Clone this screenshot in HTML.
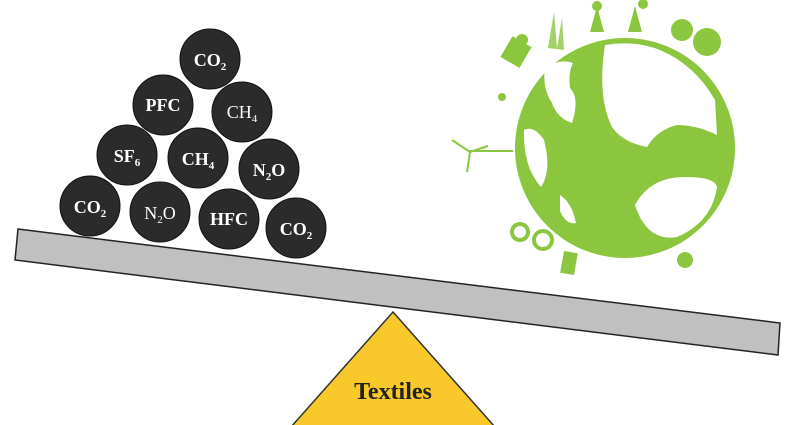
<!DOCTYPE html>
<html><head><style>body{margin:0;background:#fff}svg{display:block}</style></head><body>
<svg width="800" height="425" viewBox="0 0 800 425" xmlns="http://www.w3.org/2000/svg" font-family="Liberation Serif, serif">
<!-- globe -->
<g fill="#8cc63f">
<circle cx="625" cy="148" r="110"/>
<path d="M590 32 l7-26 7 26z M628 32 l7-26 7 26z"/>
<circle cx="597" cy="6" r="5"/><circle cx="643" cy="4" r="5"/>
<circle cx="682" cy="30" r="11"/><circle cx="707" cy="42" r="14"/>
<rect x="505" y="40" width="22" height="24" transform="rotate(30 516 52)"/>
<circle cx="522" cy="40" r="6"/>
<path d="M548 48 l6-36 3 36 5-30 2 32z" opacity="0.8"/>
<circle cx="502" cy="97" r="4"/>
<path d="M470 152 l18 -6 M470 152 l-18 -12 M470 152 l-3 20" stroke="#8cc63f" stroke-width="2" fill="none"/>
<rect x="468" y="150" width="45" height="2"/>
<circle cx="520" cy="232" r="8" fill="none" stroke="#8cc63f" stroke-width="4"/>
<circle cx="543" cy="240" r="9" fill="none" stroke="#8cc63f" stroke-width="4"/>
<rect x="562" y="252" width="14" height="22" transform="rotate(10 569 263)"/>
<circle cx="685" cy="260" r="8"/>
</g>
<g fill="#fff">
<path d="M605 45 q30-5 55 5 q35 15 55 50 l2 35 q-20 -10 -40 -10 q-20 5 -30 22 q-25 -5 -35 -20 q-15 -30 -7 -82 z"/>
<path d="M545 68 q15 -10 28 -5 q-5 10 -3 25 q10 10 2 35 q-15 -5 -20 -20 q-10 -15 -7 -35z"/>
<path d="M635 205 q15 -28 50 -28 q30 0 32 10 q-5 35 -40 50 q-30 5 -42 -32z"/>
<path d="M524 130 q10 -5 20 10 q8 30 -3 47 q-18 -20 -17 -57z"/>
<path d="M560 195 q12 8 16 28 q-10 2 -16 -12z"/>
</g>
<!-- beam -->
<polygon points="18,229 780,323 778,355 15,260" fill="#c0c0c0" stroke="#222" stroke-width="1.5"/>
<!-- triangle -->
<polygon points="393,312 495,427 291,427" fill="#f9c82b" stroke="#333" stroke-width="1.5"/>
<text x="393" y="399" font-size="24" font-weight="bold" text-anchor="middle" fill="#222">Textiles</text>
<!-- molecules -->
<g fill="#2b2b2b" stroke="#111" stroke-width="1">
<circle cx="210" cy="59" r="30"/><circle cx="163" cy="105" r="30"/><circle cx="242" cy="112" r="30"/>
<circle cx="127" cy="155" r="30"/><circle cx="198" cy="158" r="30"/><circle cx="269" cy="169" r="30"/>
<circle cx="90" cy="206" r="30"/><circle cx="160" cy="212" r="30"/><circle cx="229" cy="219" r="30"/><circle cx="296" cy="228" r="30"/>
</g>
<g fill="#fff" font-size="18" text-anchor="middle" font-weight="bold">
<text x="210" y="66">CO<tspan font-size="11" dy="4">2</tspan></text>
<text x="163" y="111">PFC</text>
<text x="242" y="118" font-weight="normal">CH<tspan font-size="11" dy="4">4</tspan></text>
<text x="127" y="162">SF<tspan font-size="11" dy="4">6</tspan></text>
<text x="198" y="165">CH<tspan font-size="11" dy="4">4</tspan></text>
<text x="269" y="176">N<tspan font-size="11" dy="4">2</tspan><tspan dy="-4">O</tspan></text>
<text x="90" y="213">CO<tspan font-size="11" dy="4">2</tspan></text>
<text x="160" y="219" font-weight="normal">N<tspan font-size="11" dy="4">2</tspan><tspan dy="-4">O</tspan></text>
<text x="229" y="225">HFC</text>
<text x="296" y="235">CO<tspan font-size="11" dy="4">2</tspan></text>
</g>
</svg>
</body></html>
